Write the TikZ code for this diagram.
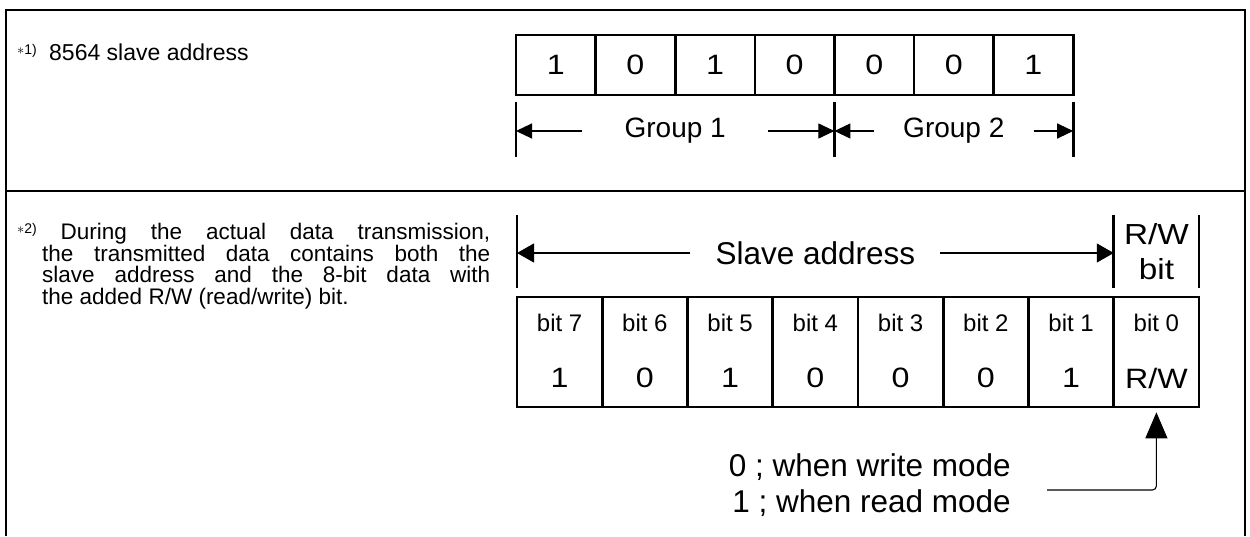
\documentclass[tikz,border=0pt]{standalone}
\usepackage{fontspec}
\setmainfont{Liberation Sans}
\newfontfamily\widesans{Liberation Sans}[FakeStretch=1.15]
\usetikzlibrary{arrows.meta}
\begin{document}
\begin{tikzpicture}[x=1pt,y=-1pt,>={Triangle[length=16pt,width=15pt]},
	frame/.style={line width=2.6pt},
	cell/.style={draw,line width=2.6pt,minimum width=79.6pt,minimum height=60pt,inner sep=0pt,font=\widesans\fontsize{28}{30}\selectfont},
	bitcell/.style={draw,line width=2.6pt,minimum width=85.25pt,minimum height=110pt,inner sep=0pt},
	bitname/.style={inner sep=0pt,font=\fontsize{24}{26}\selectfont},
	bitval/.style={inner sep=0pt,font=\widesans\fontsize{28}{30}\selectfont},
	dimline/.style={->,line width=1.1pt},
	lbl/.style={inner ysep=0pt,font=\fontsize{28}{30}\selectfont}]
	\useasboundingbox (0,0) rectangle (1250,536);
	% frame
	\draw[frame] (6,536) -- (6,10) -- (1245,10) -- (1245,536);
	\draw[frame] (6,191) -- (1245,191);
	% *1) slave address
	\node[anchor=base west,inner sep=0pt,font=\fontsize{23}{26}\selectfont] (note1) at (17,60)
		{\makebox[32pt][l]{\raisebox{6pt}{\fontsize{14}{14}\selectfont$\ast$1)}}8564 slave address};
	\node[cell] (t1) at (555.8,65) {1};
	\node[cell] (t2) at (635.4,65) {0};
	\node[cell] (t3) at (715.0,65) {1};
	\node[cell] (t4) at (794.6,65) {0};
	\node[cell] (t5) at (874.2,65) {0};
	\node[cell] (t6) at (953.8,65) {0};
	\node[cell] (t7) at (1033.4,65) {1};
	\draw[frame] (516,102) -- (516,157);
	\draw[frame] (834.4,102) -- (834.4,157);
	\draw[frame] (1073.2,102) -- (1073.2,157);
	\coordinate (ga) at (516,131);
	\coordinate (gb) at (834.4,131);
	\coordinate (gc) at (1073.2,131);
	\node[lbl,inner xsep=42pt] (g1) at (675.2,131) {Group 1};
	\node[lbl,inner xsep=29pt] (g2) at (953.8,131) {Group 2};
	\draw[dimline] (g1) -- (ga);
	\draw[dimline] (g1) -- (gb);
	\draw[dimline] (g2) -- (gb);
	\draw[dimline] (g2) -- (gc);
	% *2) transmitted data
	\node[anchor=north west,text width=448pt,align=justify,inner sep=0pt,font=\fontsize{22.5}{21.5}\selectfont] (note2) at (42,223)
		{\hspace*{-25pt}\raisebox{6pt}{\fontsize{14}{14}\selectfont$\ast$2)} During the actual data transmission,\linebreak the transmitted data contains both the\linebreak slave address and the 8-bit data with\linebreak the added R/W (read/write) bit.};
	\draw[frame] (517,215) -- (517,288);
	\draw[frame] (1113.75,215) -- (1113.75,288);
	\draw[frame] (1199,215) -- (1199,288);
	\coordinate (sa) at (517,253);
	\coordinate (sb) at (1113.75,253);
	\node[lbl,inner xsep=25pt,font=\fontsize{31.5}{34}\selectfont] (slave) at (815.4,253) {Slave address};
	\draw[dimline,>={Triangle[length=17pt,width=19pt]}] (slave) -- (sa);
	\draw[dimline,>={Triangle[length=17pt,width=19pt]}] (slave) -- (sb);
	\node[align=center,inner sep=0pt,font=\widesans\fontsize{29}{35}\selectfont] (rwhead) at (1156.4,252) {R/W\\bit};
	\node[bitcell] (c7) at (559.6,352) {} node[bitname] (n7) at (559.6,323) {bit 7} node[bitval] (v7) at (559.6,378) {1};
	\node[bitcell] (c6) at (644.9,352) {} node[bitname] (n6) at (644.9,323) {bit 6} node[bitval] (v6) at (644.9,378) {0};
	\node[bitcell] (c5) at (730.1,352) {} node[bitname] (n5) at (730.1,323) {bit 5} node[bitval] (v5) at (730.1,378) {1};
	\node[bitcell] (c4) at (815.4,352) {} node[bitname] (n4) at (815.4,323) {bit 4} node[bitval] (v4) at (815.4,378) {0};
	\node[bitcell] (c3) at (900.6,352) {} node[bitname] (n3) at (900.6,323) {bit 3} node[bitval] (v3) at (900.6,378) {0};
	\node[bitcell] (c2) at (985.9,352) {} node[bitname] (n2) at (985.9,323) {bit 2} node[bitval] (v2) at (985.9,378) {0};
	\node[bitcell] (c1) at (1071.1,352) {} node[bitname] (n1) at (1071.1,323) {bit 1} node[bitval] (v1) at (1071.1,378) {1};
	\node[bitcell] (c0) at (1156.4,352) {} node[bitname] (n0) at (1156.4,323) {bit 0} node[bitval] (v0) at (1156.4,378) {R/W};
	\node[anchor=east,align=right,inner sep=0pt,font=\fontsize{31.5}{36}\selectfont] (modes) at (1011,485) {0 ; when write mode\\1 ; when read mode};
	\coordinate (rwfrom) at (1047,490);
	\draw[line width=1.1pt,->,>={Triangle[length=26pt,width=22pt]},rounded corners=4pt,shorten >=4pt] (rwfrom) -| (c0.south);
\end{tikzpicture}
\end{document}
